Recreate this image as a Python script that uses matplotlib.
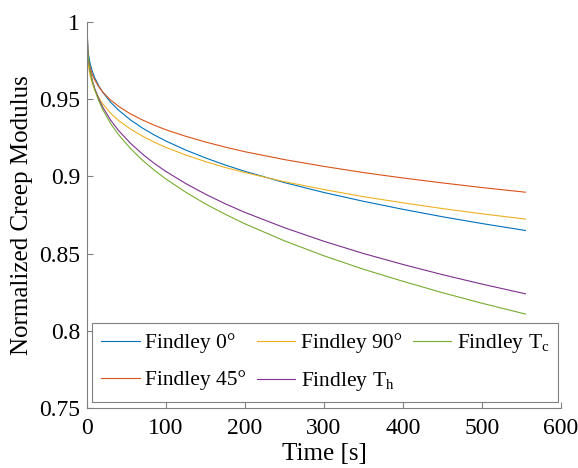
import matplotlib
matplotlib.use("Agg")
import matplotlib.pyplot as plt

plt.rcParams['font.family'] = ['Liberation Serif', 'DejaVu Serif']
plt.rcParams['mathtext.fontset'] = 'custom'
plt.rcParams['mathtext.rm'] = 'Liberation Serif'
plt.rcParams['mathtext.it'] = 'Liberation Serif:italic'

# time samples [s]
t = [0, 1, 2, 4, 7, 10, 15, 20, 30, 40, 55, 70, 85, 100, 125, 150, 175,
     200, 250, 300, 350, 400, 450, 500, 555]

# normalized creep modulus, Findley fits
E_0 = [1.0, 0.9829, 0.9786, 0.9731, 0.9677, 0.9637, 0.9585, 0.9545, 0.9480,
       0.9429, 0.9366, 0.9314, 0.9269, 0.9229, 0.9171, 0.9120, 0.9074, 0.9033,
       0.8960, 0.8896, 0.8839, 0.8787, 0.8739, 0.8695, 0.8650]
E_45 = [1.0, 0.9796, 0.9755, 0.9705, 0.9657, 0.9623, 0.9580, 0.9546, 0.9494,
        0.9454, 0.9405, 0.9366, 0.9332, 0.9302, 0.9260, 0.9223, 0.9190, 0.9160,
        0.9109, 0.9065, 0.9025, 0.8990, 0.8958, 0.8928, 0.8898]
E_90 = [1.0, 0.9759, 0.9711, 0.9653, 0.9598, 0.9558, 0.9508, 0.9469, 0.9409,
        0.9362, 0.9307, 0.9262, 0.9222, 0.9188, 0.9139, 0.9096, 0.9058, 0.9025,
        0.8966, 0.8915, 0.8869, 0.8829, 0.8792, 0.8758, 0.8724]
E_Th = [1.0, 0.9806, 0.9753, 0.9685, 0.9617, 0.9567, 0.9501, 0.9448, 0.9364,
        0.9297, 0.9215, 0.9146, 0.9085, 0.9032, 0.8954, 0.8885, 0.8823, 0.8767,
        0.8668, 0.8580, 0.8501, 0.8430, 0.8364, 0.8303, 0.8240]
E_Tc = [1.0, 0.9808, 0.9753, 0.9683, 0.9612, 0.9558, 0.9488, 0.9432, 0.9342,
        0.9270, 0.9181, 0.9106, 0.9041, 0.8983, 0.8898, 0.8822, 0.8755, 0.8693,
        0.8583, 0.8486, 0.8399, 0.8321, 0.8247, 0.8179, 0.8109]

labels = ['Findley 0°', 'Findley 45°', 'Findley 90°',
          'Findley T$_\\mathrm{h}$', 'Findley T$_\\mathrm{c}$']
colors = ['#0072BD', '#D95319', '#EDB120', '#7E2F8E', '#77AC30']

fig = plt.figure(figsize=(5.78, 4.68), dpi=100)
ax = fig.add_axes([0.1505, 0.128, 0.820, 0.825])

for y, lab, c in zip([E_0, E_45, E_90, E_Th, E_Tc], labels, colors):
    ax.plot(t, y, color=c, lw=0.8, label=lab)

ax.set_xlim(0, 600)
ax.set_ylim(0.75, 1.0)
ax.set_xticks(range(0, 601, 100))
ax.set_yticks([0.75, 0.8, 0.85, 0.9, 0.95, 1.0])
ax.set_yticklabels(['0.75', '0.8', '0.85', '0.9', '0.95', '1'])
ax.tick_params(direction='in', length=4, width=0.8, color='#808080',
               labelsize=17)
ax.tick_params(axis='x', pad=7)
ax.tick_params(axis='y', pad=5)
for s in ['top', 'right']:
    ax.spines[s].set_visible(False)
for s in ['left', 'bottom']:
    ax.spines[s].set_color('#808080')
    ax.spines[s].set_linewidth(0.8)

ax.set_xlabel('Time [s]', fontsize=18, labelpad=3)
ax.set_ylabel('Normalized Creep Modulus', fontsize=18, labelpad=4)

leg = ax.legend(ncol=3, loc='lower left', bbox_to_anchor=(0.011, 0.016),
                fontsize=15.5, handlelength=1.8, handletextpad=0.25,
                columnspacing=0.5, labelspacing=0.8, borderpad=0.4,
                borderaxespad=0, fancybox=False, framealpha=1)
leg.get_frame().set_edgecolor('#808080')
leg.get_frame().set_linewidth(0.8)

fig.savefig('out.png', dpi=100)
